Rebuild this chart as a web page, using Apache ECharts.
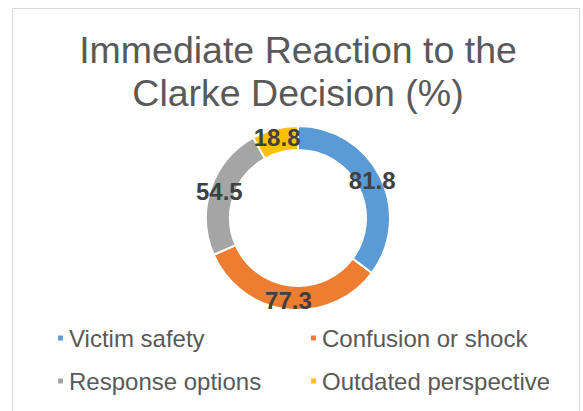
<!DOCTYPE html>
<html>
<head>
<meta charset="utf-8">
<script src="https://cdn.jsdelivr.net/npm/echarts@6/dist/echarts.min.js"></script>
<style>
  html, body { margin: 0; padding: 0; background: #fff; }
  #chart { width: 583px; height: 411px; }
</style>
</head>
<body>
<div id="chart"></div>
<script>
var categories = ['Victim safety', 'Confusion or shock', 'Response options', 'Outdated perspective'];
var values = [81.8, 77.3, 54.5, 18.8];
var titleLines = ['Immediate Reaction to the', 'Clarke Decision (%)'];

(function() {
  var font = '"Liberation Sans", Arial, sans-serif';
  var text = '#595959';

  var chart = echarts.init(document.getElementById('chart'), null, { renderer: 'svg' });

  // legend laid out as a 2x2 grid, one component per entry
  var legendPos = [[56, 326], [309, 326], [56, 369], [309, 369]];
  var legends = categories.map(function(name, i) {
    return {
      data: [name],
      left: legendPos[i][0],
      top: legendPos[i][1],
      padding: 0,
      itemWidth: 7,
      itemHeight: 7,
      icon: 'rect',
      selectedMode: false,
      textStyle: { color: text, fontSize: 24, fontFamily: font }
    };
  });

  chart.setOption({
    animation: false,
    color: ['#5B9BD5', '#ED7D31', '#A5A5A5', '#FFC000'],
    graphic: [{
      type: 'rect',
      shape: { x: 12.5, y: 8.5, width: 567, height: 430 },
      style: { fill: 'none', stroke: '#d9d9d9', lineWidth: 1 },
      silent: true
    }],
    title: {
      text: titleLines.join('\n'),
      left: 293,
      top: 23,
      textAlign: 'center',
      textStyle: { color: text, fontSize: 37.5, fontWeight: 'normal', fontFamily: font, lineHeight: 43 }
    },
    legend: legends,
    series: [{
      type: 'pie',
      center: [298, 218],
      radius: [68, 92],
      startAngle: 90,
      clockwise: true,
      itemStyle: { borderColor: '#fff', borderWidth: 2 },
      label: {
        show: true,
        position: 'inside',
        formatter: '{c}',
        color: '#404040',
        fontSize: 24,
        fontWeight: 'bold',
        fontFamily: font
      },
      labelLine: { show: false },
      emphasis: { disabled: true },
      data: categories.map(function(name, i) { return { name: name, value: values[i] }; })
    }]
  });
  window.addEventListener('resize', function() { chart.resize(); });
})();
</script>
</body>
</html>
